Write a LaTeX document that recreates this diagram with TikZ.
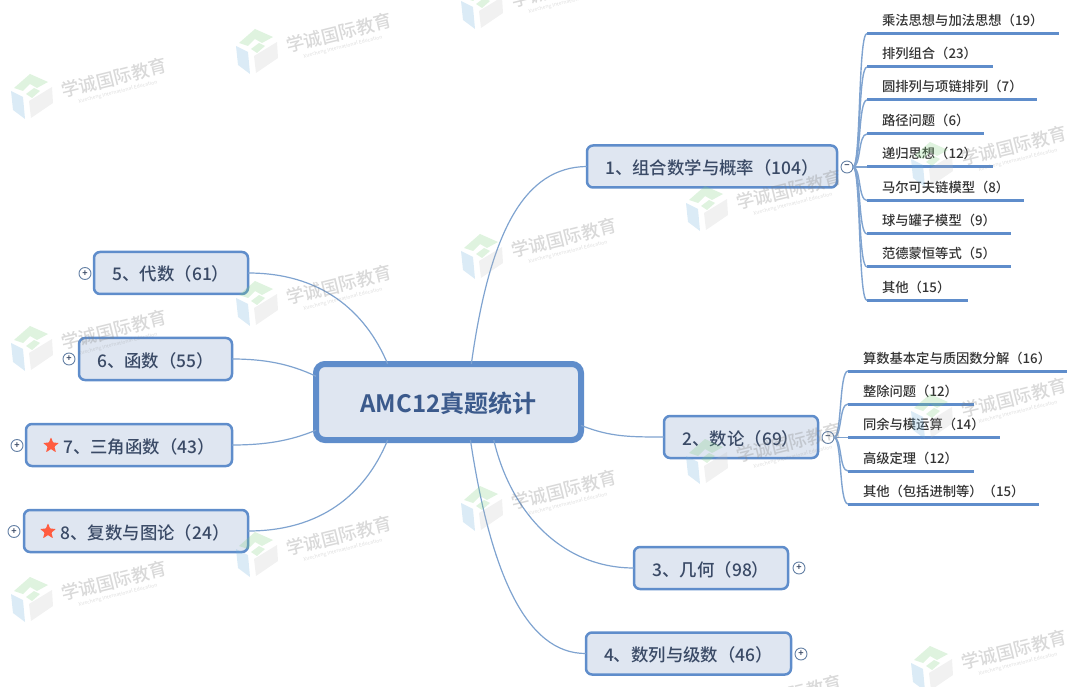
\documentclass[tikz,border=0pt]{standalone}
\usepackage{fontspec}
\setmainfont{Noto Sans CJK SC Medium}[BoldFont={Noto Sans CJK SC Bold}]
\usetikzlibrary{shapes.geometric}
\definecolor{boxfill}{HTML}{DFE6F1}
\definecolor{boxline}{HTML}{5F8DCB}
\definecolor{boxtext}{HTML}{3A4A66}
\definecolor{roottext}{HTML}{3B5A8C}
\definecolor{wire}{HTML}{7FA3D0}
\tikzset{
  root/.style={draw=boxline,fill=boxfill,line width=6pt,rounded corners=9pt,outer sep=0pt,minimum width=265pt,minimum height=76pt,text=roottext,text height=22pt,text depth=2pt,font=\fontsize{24}{26}\selectfont\bfseries},
  topic/.style={draw=boxline,fill=boxfill,line width=2.5pt,rounded corners=6pt,outer sep=0pt,inner xsep=0pt,minimum height=42pt,text=boxtext,text height=17pt,text depth=1pt,font=\fontsize{17.4}{20}\selectfont},
  leaf/.style={anchor=south west,inner xsep=0pt,inner ysep=0pt,outer sep=0pt,minimum height=27pt,text height=12.5pt,text depth=1.5pt,align=left,text=black!80,font=\fontsize{13.3}{15}\selectfont,append after command={(\tikzlastnode.south west) edge[leafline] (\tikzlastnode.south east)}},
  leafline/.style={draw=boxline,line width=3pt},
  fold/.style={circle,draw=wire!80!black,fill=white,line width=.9pt,inner sep=0pt,outer sep=0pt,minimum size=12pt,text=boxtext,font=\fontsize{9}{9}\selectfont\bfseries},
  redstar/.style={star,star points=5,star point ratio=2.4,fill=red!70!orange!75!white,inner sep=0pt,minimum size=17pt,rounded corners=.8pt},
  link/.style={draw=wire,line width=1.2pt},
  branch/.style={draw=wire,line width=1.4pt},
  wmark/.pic={
    \fill[green!45!gray!70,opacity=.25] (-19,-7) -- (-3,-21) -- (15,-13) -- (4,-7) -- (-3,-11) -- (-10,-4) -- cycle;
    \fill[green!45!gray!70,opacity=.25] (-7,-1) -- (1,-7) -- (7,-4) -- (-1,3) -- cycle;
    \fill[blue!40!cyan!60!gray!70,opacity=.25] (-22,-4) -- (-10,2) -- (-8,24) -- (-20,15) -- cycle;
    \fill[gray!55,opacity=.2] (-4,6) -- (19,-8) -- (20,8) -- (-2,23) -- cycle;
    \node[rotate=14,text=gray,opacity=.3,font=\fontsize{18}{20}\selectfont] (W) at (81,-17) {学诚国际教育};
    \node[rotate=14,text=gray,opacity=.22,font=\fontsize{5}{6}\selectfont] (Ws) at (85,-3) {Xuecheng International Education};
  }
}
\begin{document}
\begin{tikzpicture}[x=1pt,y=-1pt]
  \clip (0,0) rectangle (1080,687);
  \node[root] (R) at (448.5,402) {AMC12真题统计};
  \node[topic,minimum width=250pt] (T1) at (712,166.5) {1、组合数学与概率（104）};
  \node[topic,minimum width=154pt] (T2) at (741,437) {2、数论（69）};
  \node[topic,minimum width=154pt] (T3) at (711,568) {3、几何（98）};
  \node[topic,minimum width=205pt] (T4) at (688.5,653.5) {4、数列与级数（46）};
  \node[topic,minimum width=154pt] (T5) at (171,273) {5、代数（61）};
  \node[topic,minimum width=153pt] (T6) at (155.5,359) {6、函数（55）};
  \node[topic,minimum width=206pt] (T7) at (129,445) {\hspace*{20pt}7、三角函数（43）};
  \node[topic,minimum width=224pt] (T8) at (136,531) {\hspace*{18pt}8、复数与图论（24）};
  \node[redstar] (S7) at (51,445.5) {};
  \node[redstar] (S8) at (48,531.5) {};
  \node[fold] (C1) at (847,167) {−};
  \node[fold] (C2) at (828,437.5) {−};
  \node[fold] (C3) at (799,568) {+};
  \node[fold] (C4) at (801,654) {+};
  \node[fold] (C5) at (85,273.5) {+};
  \node[fold] (C6) at (69,359) {+};
  \node[fold] (C7) at (17,445.5) {+};
  \node[fold] (C8) at (14,531.5) {+};
  \draw[link] (R.59) .. controls (490,230) and (525,167) .. (T1.west);
  \draw[link] (R.-10) .. controls (610,437) and (630,437) .. (T2.west);
  \draw[link] (R.-40.5) .. controls (510,510) and (560,568) .. (T3.west);
  \draw[link] (R.-60.5) .. controls (490,570) and (525,654) .. (T4.west);
  \draw[link] (R.148) .. controls (365,310) and (320,273) .. (T5.east);
  \draw[link] (R.169) .. controls (290,364) and (265,359) .. (T6.east);
  \draw[link] (R.192) .. controls (290,441) and (265,445) .. (T7.east);
  \draw[link] (R.212) .. controls (365,495) and (320,531) .. (T8.east);
  \node[leaf,text width=192pt] (A1) at (867,33.5) {\hspace*{15pt}乘法思想与加法思想（19）};
  \node[leaf,text width=126pt] (A2) at (867,67) {\hspace*{15pt}排列组合（23）};
  \node[leaf,text width=170pt] (A3) at (867,100) {\hspace*{15pt}圆排列与项链排列（7）};
  \node[leaf,text width=117pt] (A4) at (867,134) {\hspace*{15pt}路径问题（6）};
  \node[leaf,text width=126pt] (A5) at (867,167) {\hspace*{15pt}递归思想（12）};
  \node[leaf,text width=157pt] (A6) at (867,200.5) {\hspace*{15pt}马尔可夫链模型（8）};
  \node[leaf,text width=144pt] (A7) at (867,234) {\hspace*{15pt}球与罐子模型（9）};
  \node[leaf,text width=144pt] (A8) at (867,267) {\hspace*{15pt}范德蒙恒等式（5）};
  \node[leaf,text width=101pt] (A9) at (867,300.5) {\hspace*{15pt}其他（15）};
  \node[leaf,text width=219pt] (B1) at (848,371) {\hspace*{15pt}算数基本定与质因数分解（16）};
  \node[leaf,text width=126pt] (B2) at (848,404) {\hspace*{15pt}整除问题（12）};
  \node[leaf,text width=152pt] (B3) at (848,437.5) {\hspace*{15pt}同余与模运算（14）};
  \node[leaf,text width=126pt] (B4) at (848,471) {\hspace*{15pt}高级定理（12）};
  \node[leaf,text width=191pt] (B5) at (848,504) {\hspace*{15pt}其他（包括进制等）（15）};
  \draw[branch] (C1.east) .. controls (861,167) and (858,33.5) .. (A1.south west);
  \draw[branch] (C1.east) .. controls (861,167) and (858,67) .. (A2.south west);
  \draw[branch] (C1.east) .. controls (861,167) and (858,100) .. (A3.south west);
  \draw[branch] (C1.east) .. controls (861,167) and (858,134) .. (A4.south west);
  \draw[branch] (C1.east) -- (A5.south west);
  \draw[branch] (C1.east) .. controls (861,167) and (858,200.5) .. (A6.south west);
  \draw[branch] (C1.east) .. controls (861,167) and (858,234) .. (A7.south west);
  \draw[branch] (C1.east) .. controls (861,167) and (858,267) .. (A8.south west);
  \draw[branch] (C1.east) .. controls (861,167) and (858,300.5) .. (A9.south west);
  \draw[branch] (C2.east) .. controls (842,437.5) and (839,371) .. (B1.south west);
  \draw[branch] (C2.east) .. controls (842,437.5) and (839,404) .. (B2.south west);
  \draw[branch] (C2.east) -- (B3.south west);
  \draw[branch] (C2.east) .. controls (842,437.5) and (839,471) .. (B4.south west);
  \draw[branch] (C2.east) .. controls (842,437.5) and (839,504) .. (B5.south west);
  \pic at (33,95) {wmark};
  \pic at (258,50) {wmark};
  \pic at (483,5) {wmark};
  \pic at (708,207) {wmark};
  \pic at (933,163) {wmark};
  \pic at (483,255) {wmark};
  \pic at (258,302) {wmark};
  \pic at (33,347) {wmark};
  \pic at (933,415) {wmark};
  \pic at (708,460) {wmark};
  \pic at (483,507) {wmark};
  \pic at (258,553) {wmark};
  \pic at (33,598) {wmark};
  \pic at (933,667) {wmark};
  \pic at (708,712) {wmark};
\end{tikzpicture}
\end{document}
